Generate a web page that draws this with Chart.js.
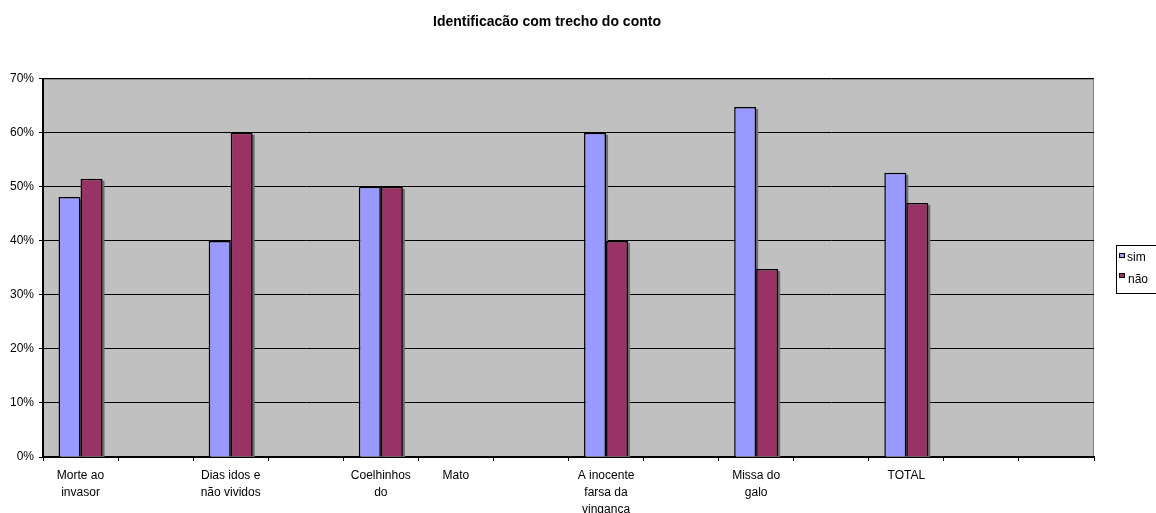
<!DOCTYPE html>
<html>
<head>
<meta charset="utf-8">
<script src="https://cdn.jsdelivr.net/npm/chart.js@4/dist/chart.umd.min.js"></script>
<style>
  html, body { margin: 0; padding: 0; background: #ffffff; }
  #wrap { width: 1156px; height: 513px; }
</style>
</head>
<body>
<div id="wrap"><canvas id="c" width="1156" height="513"></canvas></div>
<script>
// Categories (empty strings are unlabeled slots on the category axis)
const categories = [
  ["Morte ao", "invasor"], "", ["Dias idos e", "não vividos"], "",
  ["Coelhinhos", "do"], "Mato", "", ["A inocente", "farsa da", "vingança"], "",
  ["Missa do", "galo"], "", "TOTAL", "", ""
];
const simValues = [48.1, null, 40, null, 50, null, null, 60, null, 64.8, null, 52.6, null, null];
const naoValues = [51.5, null, 60, null, 50, null, null, 40, null, 34.8, null, 47.0, null, null];
const seriesNames = ["sim", "não"];
const seriesColors = ["#9999FF", "#993366"];
const yMax = 70;
const yStep = 10;

const FONT = "'Liberation Sans', Arial, sans-serif";

// Gray plot area background with a thin gray frame on top and right
const plotBackground = {
  id: 'plotBackground',
  beforeDraw(chart) {
    const { ctx, chartArea: a } = chart;
    ctx.save();
    ctx.fillStyle = '#C0C0C0';
    ctx.fillRect(a.left, a.top, a.right - a.left, a.bottom - a.top);
    ctx.strokeStyle = '#808080';
    ctx.lineWidth = 1;
    ctx.beginPath();
    ctx.moveTo(a.left, a.top + 0.5);
    ctx.lineTo(a.right - 0.5, a.top + 0.5);
    ctx.lineTo(a.right - 0.5, a.bottom);
    ctx.stroke();
    ctx.restore();
  }
};

// Drop shadow on the right and bottom of each bar
const barShadow = {
  id: 'barShadow',
  beforeDatasetsDraw(chart) {
    const { ctx, chartArea: a } = chart;
    ctx.save();
    ctx.beginPath();
    ctx.rect(a.left, a.top, a.right - a.left, a.bottom - a.top);
    ctx.clip();
    ctx.fillStyle = '#6e6e6e';
    chart.data.datasets.forEach((ds, i) => {
      const meta = chart.getDatasetMeta(i);
      meta.data.forEach((bar, j) => {
        if (ds.data[j] == null) return;
        const p = bar.getProps(['x', 'y', 'base', 'width'], true);
        const left = p.x - p.width / 2;
        ctx.fillRect(left + 2, p.y + 2, p.width, p.base - p.y);
      });
    });
    ctx.restore();
  }
};

// Boxed legend at the right edge
const boxLegend = {
  id: 'boxLegend',
  afterDraw(chart) {
    const { ctx } = chart;
    ctx.save();
    const bx = 1116.5, by = 245.5, bw = 50, bh = 48;
    ctx.fillStyle = '#ffffff';
    ctx.fillRect(bx, by, bw, bh);
    ctx.strokeStyle = '#000000';
    ctx.lineWidth = 1;
    ctx.strokeRect(bx, by, bw, bh);
    ctx.font = '12px ' + FONT;
    ctx.textBaseline = 'middle';
    ctx.textAlign = 'left';
    const rows = [{ my: 253.5, ty: 258, tx: 1127 }, { my: 273.5, ty: 280, tx: 1128 }];
    chart.data.datasets.forEach((ds, i) => {
      const r = rows[i];
      ctx.fillStyle = ds.backgroundColor;
      ctx.fillRect(1119.5, r.my, 5, 4);
      ctx.strokeStyle = '#000';
      ctx.strokeRect(1119.5, r.my, 5, 4);
      ctx.fillStyle = '#000';
      ctx.fillText(ds.label, r.tx, r.ty);
    });
    ctx.restore();
  }
};

new Chart(document.getElementById('c'), {
  type: 'bar',
  data: {
    labels: categories,
    datasets: [
      { label: seriesNames[0], data: simValues, backgroundColor: seriesColors[0], borderColor: '#000', borderWidth: 1.5 },
      { label: seriesNames[1], data: naoValues, backgroundColor: seriesColors[1], borderColor: '#000', borderWidth: 1.5 }
    ]
  },
  options: {
    responsive: false,
    animation: false,
    devicePixelRatio: 1,
    categoryPercentage: 0.586,
    barPercentage: 1.0,
    layout: { padding: { top: 0, right: 62, bottom: 0, left: 0 } },
    plugins: {
      legend: { display: false },
      tooltip: { enabled: false },
      title: {
        display: true,
        text: 'Identificacão com trecho do conto',
        color: '#000',
        font: { family: FONT, size: 14, weight: 'bold' },
        padding: { top: 14, bottom: 48 }
      }
    },
    scales: {
      x: {
        grid: { display: true, drawOnChartArea: false, drawTicks: true, tickLength: 4, tickColor: '#000', offset: true },
        border: { display: true, color: '#000', width: 2 },
        ticks: {
          color: '#000', font: { family: FONT, size: 12, lineHeight: 1.4167 },
          maxRotation: 0, minRotation: 0, autoSkip: false, padding: 6
        },
        afterFit(scale) { scale.height = 56; }
      },
      y: {
        min: 0, max: yMax,
        grid: { color: '#000', lineWidth: 1, tickLength: 4, tickColor: '#000' },
        border: { display: true, color: '#000', width: 2 },
        ticks: {
          stepSize: yStep, color: '#000', padding: 5,
          font: { family: FONT, size: 12 },
          callback: v => v + '%'
        },
        afterFit(scale) { scale.width = 43; }
      }
    }
  },
  plugins: [plotBackground, barShadow, boxLegend]
});
</script>
</body>
</html>
